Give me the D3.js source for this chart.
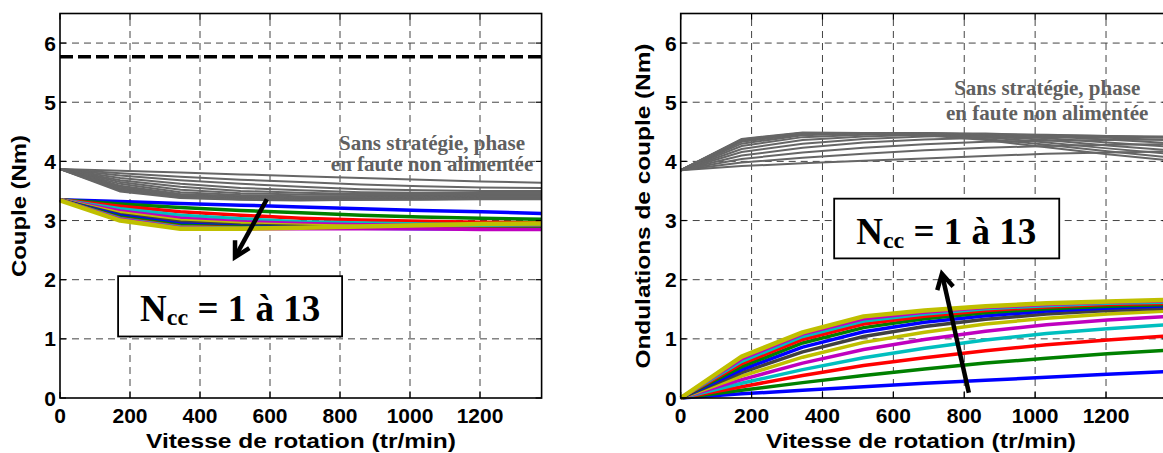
<!DOCTYPE html>
<html><head><meta charset="utf-8">
<script src="https://cdn.jsdelivr.net/npm/d3@7/dist/d3.min.js"></script>
<style>body{margin:0;background:#fff}svg{display:block}</style>
</head><body>
<svg id="c" width="1163" height="453"></svg>
<script>
// ---------- data ----------
const speed = [0, 172, 344, 516, 688, 860, 1032, 1204, 1376];
const xTicks = [0, 200, 400, 600, 800, 1000, 1200];
const yTicks = [0, 1, 2, 3, 4, 5, 6];
const nccColors = ["#0000ff","#008000","#ff0000","#00bfbf","#bf00bf","#bfbf00","#404040",
                   "#0000ff","#008000","#ff0000","#00bfbf","#bf00bf","#bfbf00"];
const refTorque = 5.77;

// Left: couple (Nm), sans strategie (grey)
const coupleSans = [
 [3.87,3.84,3.81,3.78,3.75,3.72,3.69,3.66,3.64],
 [3.87,3.80,3.74,3.69,3.65,3.61,3.58,3.56,3.55],
 [3.87,3.76,3.68,3.62,3.57,3.53,3.51,3.50,3.50],
 [3.87,3.72,3.62,3.55,3.51,3.48,3.47,3.47,3.47],
 [3.87,3.68,3.57,3.50,3.47,3.45,3.45,3.45,3.45],
 [3.87,3.65,3.52,3.46,3.44,3.43,3.43,3.43,3.43],
 [3.87,3.62,3.48,3.43,3.41,3.41,3.41,3.42,3.42],
 [3.87,3.59,3.45,3.41,3.39,3.39,3.40,3.41,3.41],
 [3.87,3.57,3.43,3.39,3.38,3.38,3.39,3.40,3.40],
 [3.87,3.55,3.41,3.38,3.37,3.37,3.38,3.39,3.39],
 [3.87,3.53,3.40,3.37,3.36,3.36,3.37,3.38,3.38],
 [3.87,3.51,3.39,3.36,3.35,3.35,3.36,3.37,3.37],
 [3.87,3.49,3.38,3.35,3.34,3.35,3.35,3.36,3.36]
];
// Left: couple (Nm), Ncc = 1..13
const coupleNcc = [
 [3.35,3.32,3.29,3.26,3.23,3.20,3.17,3.15,3.12],
 [3.35,3.28,3.22,3.17,3.13,3.09,3.06,3.04,3.02],
 [3.35,3.24,3.15,3.09,3.04,3.01,2.99,2.97,2.96],
 [3.35,3.20,3.09,3.03,2.98,2.96,2.94,2.93,2.93],
 [3.35,3.16,3.04,2.98,2.95,2.93,2.92,2.91,2.91],
 [3.35,3.13,3.00,2.95,2.92,2.90,2.89,2.88,2.88],
 [3.35,3.10,2.97,2.92,2.90,2.88,2.87,2.87,2.87],
 [3.35,3.08,2.94,2.90,2.88,2.87,2.86,2.86,2.86],
 [3.35,3.06,2.92,2.89,2.88,2.88,2.88,2.89,2.90],
 [3.35,3.04,2.90,2.88,2.88,2.89,2.90,2.91,2.92],
 [3.35,3.03,2.89,2.87,2.88,2.89,2.91,2.92,2.93],
 [3.35,3.02,2.88,2.86,2.86,2.86,2.86,2.85,2.85],
 [3.34,3.00,2.86,2.86,2.88,2.90,2.92,2.94,2.95]
];
// Right: ondulations (Nm), sans strategie (grey)
const ondulSans = [
 [3.85,3.92,3.97,4.01,4.05,4.09,4.13,4.15,4.17],
 [3.85,3.98,4.06,4.13,4.19,4.23,4.26,4.28,4.29],
 [3.85,4.04,4.15,4.23,4.29,4.33,4.35,4.36,4.37],
 [3.85,4.10,4.23,4.32,4.37,4.40,4.41,4.41,4.41],
 [3.85,4.16,4.30,4.38,4.42,4.44,4.44,4.43,4.42],
 [3.85,4.21,4.36,4.42,4.45,4.46,4.45,4.43,4.40],
 [3.85,4.26,4.41,4.45,4.47,4.47,4.44,4.40,4.36],
 [3.85,4.30,4.44,4.47,4.48,4.46,4.42,4.37,4.31],
 [3.85,4.33,4.46,4.48,4.48,4.45,4.39,4.32,4.25],
 [3.85,4.35,4.47,4.48,4.47,4.43,4.36,4.27,4.19],
 [3.85,4.36,4.48,4.48,4.46,4.41,4.32,4.22,4.13],
 [3.85,4.37,4.48,4.48,4.45,4.38,4.28,4.17,4.07],
 [3.85,4.38,4.49,4.48,4.44,4.36,4.24,4.12,4.02]
];
// Right: ondulations (Nm), Ncc = 1..13
const ondulNcc = [
 [0,0.07,0.13,0.19,0.25,0.30,0.35,0.40,0.45],
 [0,0.13,0.26,0.38,0.49,0.59,0.67,0.75,0.81],
 [0,0.19,0.38,0.55,0.68,0.80,0.90,0.98,1.05],
 [0,0.25,0.48,0.68,0.84,0.98,1.09,1.17,1.24],
 [0,0.31,0.59,0.82,0.99,1.13,1.24,1.32,1.38],
 [0,0.37,0.69,0.94,1.11,1.25,1.35,1.42,1.47],
 [0,0.43,0.78,1.04,1.21,1.33,1.42,1.48,1.52],
 [0,0.48,0.86,1.12,1.28,1.39,1.47,1.52,1.56],
 [0,0.53,0.93,1.19,1.34,1.44,1.51,1.55,1.58],
 [0,0.58,0.99,1.25,1.38,1.48,1.54,1.58,1.60],
 [0,0.62,1.04,1.30,1.42,1.51,1.56,1.60,1.62],
 [0,0.66,1.08,1.34,1.45,1.53,1.58,1.62,1.64],
 [0,0.70,1.11,1.38,1.48,1.55,1.60,1.63,1.66]
];

// annotations (data coordinates)
const sansText = ["Sans stratégie, phase", "en faute non alimentée"];
const panels = [
 {xr:[60,541.6], ylabel:"Couple (Nm)", ylabelX:26, ylabelLen:142,
  sans:coupleSans, ncc:coupleNcc, ref:true,
  textX:1063, textY:[4.20,3.84],
  box:[166,806,2.06,1.04], arrow:[[591,3.36],[500,2.38]]},
 {xr:[680.7,1168.4], ylabel:"Ondulations de couple (Nm)", ylabelX:650, ylabelLen:325,
  sans:ondulSans, ncc:ondulNcc, ref:false,
  textX:1034, textY:[5.12,4.70],
  box:[433,1068,3.37,2.36], arrow:[[813,0.09],[737,2.10]]}
];

const svg = d3.select("#c");
svg.append("rect").attr("width",1163).attr("height",453).attr("fill","#fff");
const yTop = 13.5, yBot = 398;
const sansFont = "'Liberation Sans', Arial, Helvetica, sans-serif";
const serif = "'Liberation Serif', 'Times New Roman', serif";

panels.forEach(p => {
  const x = d3.scaleLinear().domain([0,1376]).range(p.xr);
  const y = d3.scaleLinear().domain([0,6.5]).range([yBot,yTop]);
  const g = svg.append("g");

  // grid
  g.selectAll(".gx").data(xTicks.slice(1)).enter().append("line")
   .attr("x1",d=>x(d)).attr("x2",d=>x(d)).attr("y1",yBot).attr("y2",yTop)
   .attr("stroke","#444").attr("stroke-width",1).attr("stroke-dasharray","7,5");
  g.selectAll(".gy").data(yTicks.slice(1)).enter().append("line")
   .attr("x1",p.xr[0]).attr("x2",p.xr[1]).attr("y1",d=>y(d)).attr("y2",d=>y(d))
   .attr("stroke","#444").attr("stroke-width",1).attr("stroke-dasharray","7,5");

  const line = d3.line().x((d,i)=>x(speed[i])).y(d=>y(d));
  g.selectAll(".sans").data(p.sans).enter().append("path")
   .attr("d",line).attr("fill","none").attr("stroke","#666").attr("stroke-width",2);
  g.selectAll(".ncc").data(p.ncc).enter().append("path")
   .attr("d",line).attr("fill","none")
   .attr("stroke",(d,i)=>nccColors[i]).attr("stroke-width",(d,i)=>i===12?4.5:3.5)
   .attr("stroke-linejoin","round");

  if (p.ref) {
    g.append("line").attr("x1",x(0)).attr("x2",x(1376))
     .attr("y1",y(refTorque)).attr("y2",y(refTorque))
     .attr("stroke","#000").attr("stroke-width",3.5).attr("stroke-dasharray","13,5");
  }

  // box
  g.append("rect").attr("x",p.xr[0]).attr("y",yTop)
   .attr("width",p.xr[1]-p.xr[0]).attr("height",yBot-yTop)
   .attr("fill","none").attr("stroke","#000").attr("stroke-width",1.6);
  // inner ticks
  const tl = 6;
  xTicks.forEach(t => {
    g.append("line").attr("x1",x(t)).attr("x2",x(t)).attr("y1",yBot).attr("y2",yBot-tl).attr("stroke","#000").attr("stroke-width",1.2);
    g.append("line").attr("x1",x(t)).attr("x2",x(t)).attr("y1",yTop).attr("y2",yTop+tl).attr("stroke","#000").attr("stroke-width",1.2);
  });
  yTicks.forEach(t => {
    g.append("line").attr("x1",p.xr[0]).attr("x2",p.xr[0]+tl).attr("y1",y(t)).attr("y2",y(t)).attr("stroke","#000").attr("stroke-width",1.2);
    g.append("line").attr("x1",p.xr[1]).attr("x2",p.xr[1]-tl).attr("y1",y(t)).attr("y2",y(t)).attr("stroke","#000").attr("stroke-width",1.2);
  });

  // tick labels
  g.selectAll(".xl").data(xTicks).enter().append("text")
   .attr("x",d=>x(d)).attr("y",422.5).attr("text-anchor","middle")
   .attr("font-family",sansFont).attr("font-weight","bold").attr("font-size",21)
   .text(d=>d);
  g.selectAll(".yl").data(yTicks).enter().append("text")
   .attr("x",p.xr[0]-4).attr("y",d=>y(d)+7.5).attr("text-anchor","end")
   .attr("font-family",sansFont).attr("font-weight","bold").attr("font-size",21)
   .text(d=>d);

  // axis labels
  const xc = (p.xr[0] + Math.min(p.xr[1],1163))/2;
  g.append("text").attr("x", p.ref ? 301 : 921).attr("y",448).attr("text-anchor","middle")
   .attr("font-family",sansFont).attr("font-weight","bold").attr("font-size",21)
   .attr("textLength",310).attr("lengthAdjust","spacingAndGlyphs")
   .text("Vitesse de rotation (tr/min)");
  g.append("text").attr("transform",`translate(${p.ylabelX},206) rotate(-90)`)
   .attr("text-anchor","middle")
   .attr("font-family",sansFont).attr("font-weight","bold").attr("font-size",21)
   .attr("textLength",p.ylabelLen).attr("lengthAdjust","spacingAndGlyphs")
   .text(p.ylabel);

  // grey annotation
  sansText.forEach((t,i)=>{
    g.append("text").attr("x",x(p.textX)).attr("y",y(p.textY[i])).attr("text-anchor","middle")
     .attr("font-family",serif).attr("font-weight","bold").attr("font-size",21)
     .attr("fill","#606060").text(t);
  });

  // Ncc box
  const [bx0,bx1,by0,by1] = p.box;
  g.append("rect").attr("x",x(bx0)).attr("y",y(by0))
   .attr("width",x(bx1)-x(bx0)).attr("height",y(by1)-y(by0))
   .attr("fill","#fff").attr("stroke","#000").attr("stroke-width",1.8);
  const tt = g.append("text").attr("x",x(bx0)+22).attr("y",(y(by0)+y(by1))/2+15)
   .attr("font-family",serif).attr("font-weight","bold").attr("font-size",37).attr("fill","#000");
  tt.append("tspan").text("N");
  tt.append("tspan").attr("font-size",24).attr("dy",4).text("cc");
  tt.append("tspan").attr("dy",-4).text(" = 1 à 13");

  // arrow
  const [a0,a1] = p.arrow;
  const X0=x(a0[0]), Y0=y(a0[1]), X1=x(a1[0]), Y1=y(a1[1]);
  const ang = Math.atan2(Y1-Y0, X1-X0), hl = 17, ha = 0.5;
  g.append("line").attr("x1",X0).attr("y1",Y0).attr("x2",X1-Math.cos(ang)*2).attr("y2",Y1-Math.sin(ang)*2)
   .attr("stroke","#000").attr("stroke-width",4.5);
  g.append("path").attr("d",
     `M${X1-hl*Math.cos(ang-ha)},${Y1-hl*Math.sin(ang-ha)} L${X1},${Y1} L${X1-hl*Math.cos(ang+ha)},${Y1-hl*Math.sin(ang+ha)}`)
   .attr("fill","none").attr("stroke","#000").attr("stroke-width",4.5).attr("stroke-linejoin","miter");
});
</script>
</body></html>
